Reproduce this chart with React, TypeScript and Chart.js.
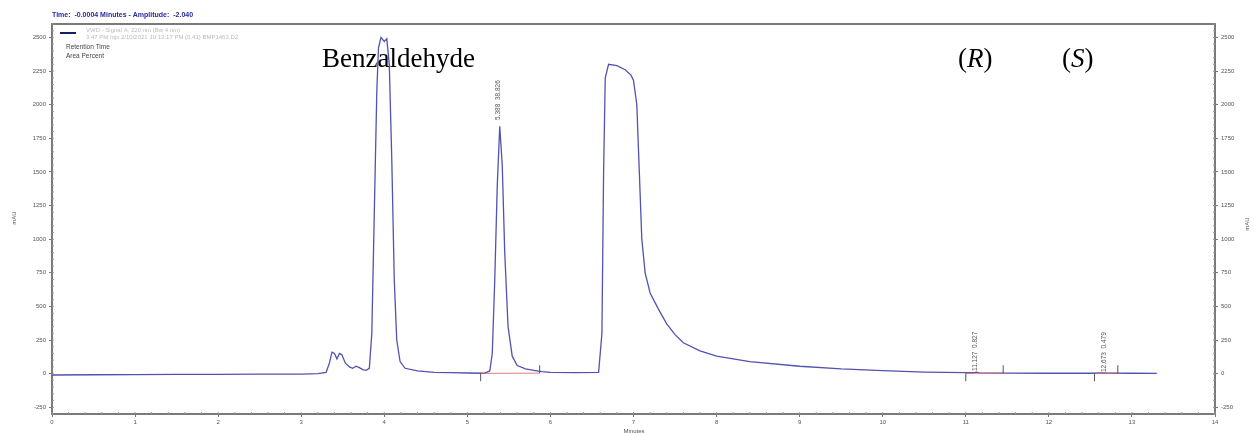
import React, { useEffect, useRef } from "react";
import { Chart, registerables } from "chart.js";

Chart.register(...registerables);

// Retention time (minutes)
const times = [
  0, 0.5, 1.0, 1.5, 2.0, 2.5, 3.0, 3.2, 3.3, 3.34, 3.37, 3.4, 3.43, 3.46, 3.49, 3.53, 3.58, 3.62, 3.66,
  3.7, 3.74, 3.78, 3.82, 3.85, 3.88, 3.91, 3.93, 3.96, 4.0, 4.03, 4.06, 4.09, 4.12, 4.15, 4.19, 4.25,
  4.4, 4.6, 4.8, 5.0, 5.2, 5.27, 5.3, 5.33, 5.36, 5.39, 5.42, 5.45, 5.49, 5.54, 5.6, 5.7, 5.8, 5.9,
  6.0, 6.3, 6.58, 6.62, 6.64, 6.66, 6.7, 6.8, 6.9, 6.97, 7.0, 7.04, 7.07, 7.1, 7.14, 7.2, 7.3, 7.4,
  7.5, 7.6, 7.8, 8.0, 8.4, 9.0, 9.5, 10.0, 10.5, 11.0, 11.1, 11.13, 11.16, 11.5, 12.0, 12.5, 12.67,
  12.7, 13.0, 13.3,
];
// Detector signal (mAU)
const signal = [
  -10, -8, -7, -6, -5, -4, -3, 0, 10, 80, 160, 150, 110, 150, 140, 80, 50, 40, 55,
  45, 30, 25, 40, 300, 1200, 2100, 2420, 2500, 2470, 2490, 2300, 1600, 700, 250, 90, 40,
  20, 10, 8, 5, 3, 20, 150, 700, 1400, 1840, 1550, 900, 350, 130, 60, 35, 25, 15,
  10, 8, 10, 300, 1500, 2200, 2300, 2290, 2260, 2220, 2180, 2000, 1500, 1000, 750, 600, 480, 370,
  290, 230, 170, 130, 90, 55, 35, 22, 12, 8, 8, 11, 6, 4, 3, 3, 6,
  4, 3, 2,
];

const yTickValues = [-250, 0, 250, 500, 750, 1000, 1250, 1500, 1750, 2000, 2250, 2500];
const xTickValues = [0, 1, 2, 3, 4, 5, 6, 7, 8, 9, 10, 11, 12, 13, 14];

// integration event marks (time) and direction
const eventTimes = [5.16, 5.87, 11.0, 11.45, 12.55, 12.83];
const eventDirs = [-1, 1, -1, 1, -1, 1];
const baselineStarts = [5.16, 11.0, 12.55];
const baselineEnds = [5.87, 11.45, 12.83];

const peakLabelTimes = [5.388, 11.127, 12.673];
const peakLabelTexts = ["5.388  38.826", "11.127  0.827", "12.673  0.479"];

const titleText = "Time:  -0.0004 Minutes - Amplitude:  -2.040";
const legendLines = [
  "VWD - Signal A, 220 nm (Bw 4 nm)",
  "3.47 PM Injx 2/10/2021 10:13:17 PM (0.41) BMP1463.D2",
];
const legendItems = ["Retention Time", "Area Percent"];

const compoundNames = ["Benzaldehyde", "R", "S"];

const overlayPlugin = {
  id: "overlay",
  afterDraw(chart: any) {
    const { ctx, chartArea, scales } = chart;
    const xs = scales.x;
    const ys = scales.y;
    ctx.save();
    // frame top
    ctx.strokeStyle = "#7a7a7a";
    ctx.lineWidth = 2;
    ctx.beginPath();
    ctx.moveTo(chartArea.left, chartArea.top);
    ctx.lineTo(chartArea.right, chartArea.top);
    ctx.stroke();

    // minor ticks
    ctx.lineWidth = 1;
    ctx.strokeStyle = "#999";
    for (let v = -300; v <= 2600; v += 50) {
      const py = ys.getPixelForValue(v);
      ctx.beginPath();
      ctx.moveTo(chartArea.left, py);
      ctx.lineTo(chartArea.left + 2, py);
      ctx.moveTo(chartArea.right, py);
      ctx.lineTo(chartArea.right - 2, py);
      ctx.stroke();
    }
    for (let t = 0; t <= 14; t += 0.2) {
      const px = xs.getPixelForValue(t);
      ctx.beginPath();
      ctx.moveTo(px, chartArea.bottom);
      ctx.lineTo(px, chartArea.bottom - 2);
      ctx.stroke();
    }

    // integration baselines
    ctx.strokeStyle = "#d06060";
    ctx.lineWidth = 0.8;
    baselineStarts.forEach((s, i) => {
      ctx.beginPath();
      ctx.moveTo(xs.getPixelForValue(s), ys.getPixelForValue(2));
      ctx.lineTo(xs.getPixelForValue(baselineEnds[i]), ys.getPixelForValue(4));
      ctx.stroke();
    });
    // event marks
    ctx.strokeStyle = "#555";
    ctx.lineWidth = 1;
    eventTimes.forEach((t, i) => {
      const px = xs.getPixelForValue(t);
      const py = ys.getPixelForValue(3);
      ctx.beginPath();
      ctx.moveTo(px, py);
      ctx.lineTo(px, py - eventDirs[i] * 8);
      ctx.stroke();
    });

    // title
    ctx.fillStyle = "#2a2aa0";
    ctx.font = "bold 7px 'Liberation Sans', Arial";
    ctx.textBaseline = "middle";
    ctx.textAlign = "left";
    ctx.fillText(titleText, 52, 15);

    // legend
    ctx.strokeStyle = "#1a1a70";
    ctx.lineWidth = 2;
    ctx.beginPath();
    ctx.moveTo(60, 33);
    ctx.lineTo(76, 33);
    ctx.stroke();
    ctx.fillStyle = "#bbb";
    ctx.font = "6px 'Liberation Sans', Arial";
    ctx.fillText(legendLines[0], 86, 30);
    ctx.fillText(legendLines[1], 86, 37.5);
    ctx.fillStyle = "#444";
    ctx.font = "6.5px 'Liberation Sans', Arial";
    ctx.fillText(legendItems[0], 66, 47);
    ctx.fillText(legendItems[1], 66, 56);

    // peak labels (rotated)
    ctx.fillStyle = "#555";
    ctx.font = "6.5px 'Liberation Sans', Arial";
    const labelBottoms = [120, 371, 372];
    peakLabelTimes.forEach((t, i) => {
      const px = xs.getPixelForValue(t) - 1;
      ctx.save();
      ctx.translate(px, labelBottoms[i]);
      ctx.rotate(-Math.PI / 2);
      ctx.textAlign = "left";
      ctx.textBaseline = "middle";
      ctx.fillText(peakLabelTexts[i], 0, 0);
      ctx.restore();
    });

    // axis titles
    ctx.fillStyle = "#555";
    ctx.font = "6px 'Liberation Sans', Arial";
    ctx.save();
    ctx.translate(14, 218);
    ctx.rotate(-Math.PI / 2);
    ctx.textAlign = "center";
    ctx.fillText("mAU", 0, 0);
    ctx.restore();
    ctx.save();
    ctx.translate(1247, 224);
    ctx.rotate(-Math.PI / 2);
    ctx.textAlign = "center";
    ctx.fillText("mAU", 0, 0);
    ctx.restore();
    ctx.textAlign = "center";
    ctx.fillText("Minutes", 634, 431);

    // compound annotations
    ctx.fillStyle = "#000";
    ctx.textBaseline = "alphabetic";
    ctx.textAlign = "left";
    ctx.font = "27px 'Liberation Serif', 'Times New Roman', serif";
    ctx.fillText(compoundNames[0], 322, 67);
    const drawIt = (x: number, letter: string) => {
      ctx.font = "27px 'Liberation Serif', serif";
      ctx.fillText("(", x, 67);
      let w = ctx.measureText("(").width;
      ctx.font = "italic 27px 'Liberation Serif', serif";
      ctx.fillText(letter, x + w, 67);
      w += ctx.measureText(letter).width;
      ctx.font = "27px 'Liberation Serif', serif";
      ctx.fillText(")", x + w, 67);
    };
    drawIt(958, compoundNames[1]);
    drawIt(1062, compoundNames[2]);
    ctx.restore();
  },
};

export default function App() {
  const ref = useRef<HTMLCanvasElement | null>(null);
  useEffect(() => {
    document.body.style.margin = "0";
    const canvas = ref.current!;
    const tickFont = { family: "'Liberation Sans', Arial", size: 6 };
    const yAxis = (pos: string, width: number) => ({
      type: "linear",
      position: pos,
      min: -300,
      max: 2600,
      afterBuildTicks: (s: any) => {
        s.ticks = yTickValues.map((v) => ({ value: v }));
      },
      afterFit: (s: any) => {
        s.width = width;
      },
      ticks: { font: tickFont, color: "#555", padding: 3, callback: (v: any) => String(v) },
      grid: { drawOnChartArea: false, drawTicks: true, tickLength: 3, color: "#777" },
      border: { color: "#7a7a7a", width: 2 },
    });
    const chart = new Chart(canvas, {
      type: "line",
      data: {
        datasets: [
          {
            label: "VWD",
            data: times.map((t, i) => ({ x: t, y: signal[i] })),
            borderColor: "#5252b0",
            borderWidth: 1.3,
            pointRadius: 0,
            tension: 0,
            fill: false,
          },
        ],
      },
      options: {
        animation: false,
        responsive: false,
        maintainAspectRatio: false,
        layout: { padding: { top: 24, left: 0, right: 0, bottom: 0 } },
        plugins: { legend: { display: false }, tooltip: { enabled: false }, title: { display: false } },
        scales: {
          x: {
            type: "linear",
            position: "bottom",
            min: 0,
            max: 14,
            afterBuildTicks: (s: any) => {
              s.ticks = xTickValues.map((v) => ({ value: v }));
            },
            afterFit: (s: any) => {
              s.height = 19;
            },
            ticks: { font: tickFont, color: "#555", padding: 2, maxRotation: 0, callback: (v: any) => String(v) },
            grid: { drawOnChartArea: false, drawTicks: true, tickLength: 3, color: "#777" },
            border: { color: "#7a7a7a", width: 2 },
          },
          y: yAxis("left", 52) as any,
          y2: yAxis("right", 39) as any,
        },
      } as any,
      plugins: [overlayPlugin],
    });
    return () => chart.destroy();
  }, []);
  return (
    <div style={{ position: "fixed", left: 0, top: 0, width: 1254, height: 433, background: "#fff" }}>
      <canvas ref={ref} width={1254} height={433} style={{ display: "block" }} />
    </div>
  );
}
